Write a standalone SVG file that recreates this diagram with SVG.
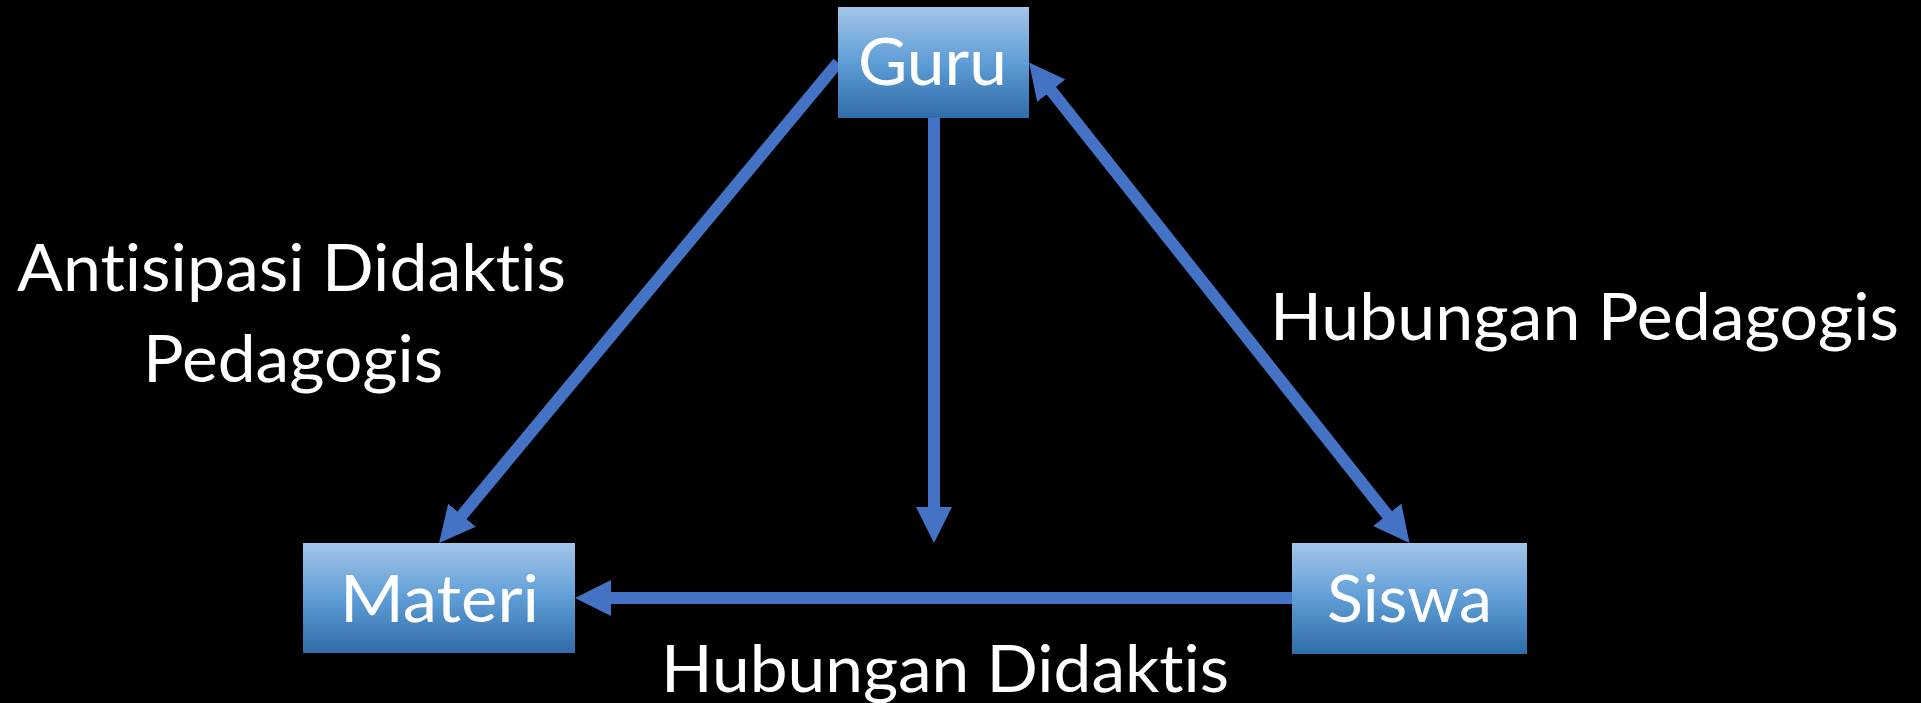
<svg xmlns="http://www.w3.org/2000/svg" width="1921" height="703" viewBox="0 0 1921 703">
<defs>
<linearGradient id="boxGrad" x1="0" y1="0" x2="0" y2="1">
<stop offset="0" stop-color="#a3c6e9"/>
<stop offset="0.5" stop-color="#5f9dd6"/>
<stop offset="1" stop-color="#2f6ca9"/>
</linearGradient>
<marker id="head" markerUnits="userSpaceOnUse" viewBox="0 0 36 36" refX="6" refY="18" markerWidth="36" markerHeight="36" orient="auto-start-reverse">
<path d="M0,0 L36,18 L0,36 z" fill="#4472c4"/>
</marker>
</defs>
<style>
.box{fill:url(#boxGrad);}
.lbl{font-family:Lato,"Open Sans","Liberation Sans",sans-serif;font-size:65px;fill:#ffffff;font-variant-ligatures:none;font-feature-settings:"liga" 0,"clig" 0;}
.conn{stroke:#4472c4;stroke-width:12;fill:none;stroke-linecap:butt;}
</style>
<rect x="0" y="0" width="1921" height="703" fill="#000000"/>
<g id="connectors">
<line class="conn" x1="838" y1="62.5" x2="458.2" y2="519.9" marker-end="url(#head)"/>
<line class="conn" x1="934" y1="118" x2="934" y2="513" marker-end="url(#head)"/>
<line class="conn" x1="1292" y1="598" x2="605" y2="598" marker-end="url(#head)"/>
<line class="conn" x1="1047.6" y1="86" x2="1390.9" y2="519.5" marker-start="url(#head)" marker-end="url(#head)"/>
</g>
<g id="guru">
<rect class="box" x="838" y="7" width="191" height="111"/>
<text class="lbl" x="858" y="85" textLength="149" lengthAdjust="spacingAndGlyphs">Guru</text>
</g>
<g id="materi">
<rect class="box" x="303" y="543" width="272" height="110"/>
<text class="lbl" x="340" y="622" textLength="199" lengthAdjust="spacingAndGlyphs">Materi</text>
</g>
<g id="siswa">
<rect class="box" x="1292" y="543" width="235" height="111"/>
<text class="lbl" x="1327" y="622" textLength="165" lengthAdjust="spacingAndGlyphs">Siswa</text>
</g>
<g id="labels">
<text class="lbl" x="17" y="291" textLength="549" lengthAdjust="spacingAndGlyphs">Antisipasi Didaktis</text>
<text class="lbl" x="143" y="382" textLength="300" lengthAdjust="spacingAndGlyphs">Pedagogis</text>
<text class="lbl" x="1270" y="340" textLength="629" lengthAdjust="spacingAndGlyphs">Hubungan Pedagogis</text>
<text class="lbl" x="661" y="692" textLength="568" lengthAdjust="spacingAndGlyphs">Hubungan Didaktis</text>
</g>
</svg>
